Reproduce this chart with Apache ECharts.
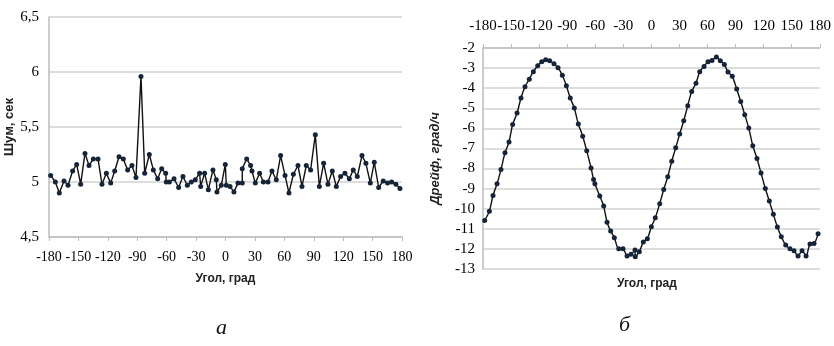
<!DOCTYPE html>
<html>
<head>
<meta charset="utf-8">
<script src="https://cdn.jsdelivr.net/npm/echarts@6/dist/echarts.min.js"></script>
<style>
  html, body { margin: 0; padding: 0; background: #fff; }
  #chart { width: 834px; height: 346px; }
</style>
</head>
<body>
<div id="chart"></div>
<script>
// а) шум от угла
const noiseAngle = [-178.3,-173.5,-169.5,-164.7,-160.6,-155.9,-151.8,-147.7,-143.3,-139.2,
  -134.8,-130.0,-126.0,-121.5,-117.1,-113.0,-108.6,-104.2,-99.8,-95.4,
  -91.3,-86.2,-82.4,-77.7,-73.6,-69.2,-65.1,-61.0,-60.4,-57.3,
  -52.5,-47.8,-43.4,-38.9,-34.9,-30.8,-26.4,-25.3,-21.3,-17.5,
  -12.8,-9.4,-8.7,-4.3,-0.2,0.8,4.6,8.6,12.7,17.1,
  17.1,21.6,25.6,27.0,30.4,34.8,38.6,43.3,47.4,51.8,
  56.2,60.7,64.7,69.2,73.9,78.0,82.4,86.8,91.6,95.7,
  100.1,104.5,108.9,113.0,117.4,121.8,126.3,130.3,134.4,139.2,
  143.2,147.7,151.7,156.2,160.9,165.3,169.4,173.8,177.9];
const noiseValue = [5.06,5.00,4.90,5.01,4.97,5.10,5.16,4.98,5.26,5.15,
  5.21,5.21,4.98,5.08,4.99,5.10,5.23,5.21,5.11,5.15,
  5.04,5.96,5.08,5.25,5.11,5.03,5.12,5.08,5.00,5.00,
  5.03,4.95,5.05,4.97,5.00,5.02,5.08,4.96,5.08,4.93,
  5.11,5.02,4.91,4.97,5.16,4.97,4.96,4.91,4.99,4.99,
  5.12,5.21,5.15,5.10,4.99,5.08,5.00,5.00,5.10,5.02,
  5.24,5.06,4.90,5.07,5.15,4.96,5.15,5.11,5.43,4.96,
  5.17,4.98,5.10,4.96,5.05,5.08,5.03,5.11,5.05,5.24,
  5.17,4.99,5.18,4.95,5.01,4.99,5.00,4.98,4.94];

// б) дрейф от угла
const driftAngle = [-178.2,-173.2,-169.3,-165.0,-160.8,-156.5,-152.2,-148.3,-143.6,-139.4,
  -135.1,-130.5,-126.2,-121.5,-117.2,-113.0,-108.7,-104.1,-99.8,-95.2,
  -90.9,-86.7,-82.4,-78.1,-73.4,-69.1,-64.5,-61.8,-60.4,-55.2,
  -51.0,-47.4,-43.5,-39.6,-34.9,-30.3,-26.0,-21.8,-17.5,-17.2,
  -12.9,-8.6,-4.3,0.0,4.2,8.9,13.2,17.5,21.8,26.0,
  30.3,34.6,38.9,43.1,47.7,51.7,56.3,60.6,64.8,69.5,
  73.7,78.0,81.9,86.5,91.2,95.5,99.8,104.1,108.4,112.9,
  117.2,121.8,126.1,130.4,134.7,138.9,143.6,148.2,152.5,156.8,
  161.1,165.4,169.6,173.9,178.2];
const driftValue = [-10.58,-10.12,-9.34,-8.76,-8.05,-7.22,-6.68,-5.81,-5.24,-4.49,
  -3.93,-3.55,-3.18,-2.88,-2.69,-2.59,-2.64,-2.78,-2.98,-3.36,
  -3.88,-4.49,-4.99,-5.78,-6.39,-7.12,-7.97,-8.55,-8.76,-9.37,
  -9.87,-10.67,-11.11,-11.44,-11.99,-11.99,-12.35,-12.27,-12.06,-12.39,
  -12.14,-11.66,-11.49,-10.90,-10.45,-9.75,-9.04,-8.41,-7.64,-6.97,
  -6.28,-5.62,-4.87,-4.16,-3.75,-3.18,-2.92,-2.68,-2.62,-2.45,
  -2.64,-2.82,-3.20,-3.41,-4.04,-4.66,-5.32,-5.98,-6.86,-7.50,
  -8.22,-8.99,-9.62,-10.28,-10.91,-11.39,-11.81,-11.99,-12.09,-12.35,
  -12.09,-12.35,-11.76,-11.73,-11.25];

const serif = 'Liberation Serif';
const sans = 'Liberation Sans';
const gridColor = '#d2d2d2';
const axisColor = '#bdbdbd';

const noiseData = noiseAngle.map((a, i) => [a, noiseValue[i]]);
const driftData = driftAngle.map((a, i) => [a, driftValue[i]]);

const chart = echarts.init(document.getElementById('chart'), null, { renderer: 'canvas' });

const option = {
  animation: false,
  backgroundColor: '#fff',
  grid: [
    { left: 49, top: 17, width: 353, height: 220 },
    { left: 483, top: 48, width: 337, height: 221 }
  ],
  xAxis: [
    {
      gridIndex: 0, type: 'value', min: -180, max: 180, interval: 30,
      name: 'Угол, град', nameLocation: 'middle', nameGap: 36,
      nameTextStyle: { fontFamily: sans, fontWeight: 'bold', fontSize: 12, color: '#222' },
      axisLine: { show: true, onZero: false, lineStyle: { color: axisColor, width: 1.5 } },
      axisTick: { show: true, length: 4, lineStyle: { color: axisColor } },
      axisLabel: { fontFamily: serif, fontSize: 14, color: '#000', margin: 13, hideOverlap: false },
      splitLine: { show: false }
    },
    {
      gridIndex: 1, type: 'value', min: -180, max: 180, interval: 30, position: 'top',
      axisLine: { show: true, onZero: false, lineStyle: { color: axisColor, width: 1.5 } },
      axisTick: { show: true, length: 4, lineStyle: { color: axisColor } },
      axisLabel: { fontFamily: serif, fontSize: 15, color: '#000', margin: 14, hideOverlap: false },
      splitLine: { show: false }
    }
  ],
  yAxis: [
    {
      gridIndex: 0, type: 'value', min: 4.5, max: 6.5, interval: 0.5,
      name: 'Шум, сек', nameLocation: 'middle', nameGap: 30, nameRotate: 90,
      nameTextStyle: { fontFamily: sans, fontWeight: 'bold', fontSize: 13, color: '#222' },
      axisLine: { show: true, onZero: false, lineStyle: { color: axisColor, width: 1.5 } },
      axisTick: { show: false },
      axisLabel: {
        fontFamily: serif, fontSize: 15, color: '#000', margin: 10,
        formatter: v => String(v).replace('.', ',')
      },
      splitLine: { show: true, lineStyle: { color: gridColor, width: 1.5 } }
    },
    {
      gridIndex: 1, type: 'value', min: -13, max: -2, interval: 1,
      name: 'Дрейф, град/ч', nameLocation: 'middle', nameGap: 41, nameRotate: 90,
      nameTextStyle: { fontFamily: sans, fontWeight: 'bold', fontStyle: 'italic', fontSize: 13, color: '#222' },
      axisLine: { show: true, onZero: false, lineStyle: { color: axisColor, width: 1.5 } },
      axisTick: { show: false },
      axisLabel: { fontFamily: serif, fontSize: 15, color: '#000', margin: 8 },
      splitLine: { show: true, lineStyle: { color: gridColor, width: 1.5 } }
    }
  ],
  series: [
    {
      type: 'line', xAxisIndex: 0, yAxisIndex: 0, data: noiseData,
      symbol: 'circle', symbolSize: 5,
      lineStyle: { color: '#111', width: 1.4 },
      itemStyle: { color: '#16243a' }
    },
    {
      type: 'line', xAxisIndex: 1, yAxisIndex: 1, data: driftData,
      smooth: 0.3, symbol: 'circle', symbolSize: 5,
      lineStyle: { color: '#111', width: 1.4 },
      itemStyle: { color: '#16243a' }
    }
  ],
  graphic: [
    {
      type: 'text', left: 617, top: 278,
      style: { text: 'Угол, град', fontFamily: sans, fontWeight: 'bold', fontSize: 12, fill: '#222' }
    },
    {
      type: 'text', left: 216, top: 317,
      style: { text: 'а', fontFamily: serif, fontStyle: 'italic', fontSize: 22, fill: '#111' }
    },
    {
      type: 'text', left: 619, top: 314,
      style: { text: 'б', fontFamily: serif, fontStyle: 'italic', fontSize: 22, fill: '#111' }
    }
  ]
};

chart.setOption(option);
</script>
</body>
</html>
